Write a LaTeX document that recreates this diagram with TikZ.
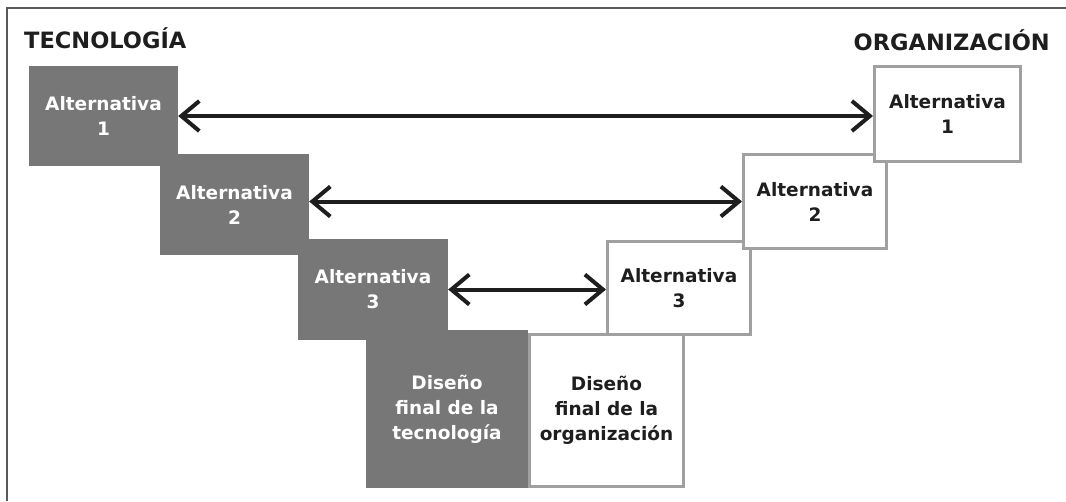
\documentclass[tikz,border=0pt]{standalone}
\usepackage{fontspec}
\setmainfont{DejaVu Sans}
\usetikzlibrary{arrows.meta}
\definecolor{techfill}{HTML}{777777}
\definecolor{orgline}{HTML}{A0A0A0}
\definecolor{ink}{HTML}{1E1E1E}
\definecolor{frameline}{HTML}{5A5A5A}
\begin{document}
\begin{tikzpicture}[x=1pt,y=-1pt,
  boxtext/.style={font=\bfseries\fontsize{18.5}{25}\selectfont, align=center, inner sep=0pt},
  techbox/.style={boxtext, rectangle, fill=techfill, text=white},
  orgbox/.style={boxtext, rectangle, fill=white, draw=orgline, line width=3pt, text=ink},
  title/.style={font=\bfseries\fontsize{22.5}{27}\selectfont, text=ink, inner sep=0pt},
  biarrow/.style={draw=ink, line width=4pt,
    {Straight Barb[length=18pt,width=30pt,line width=4pt]}-{Straight Barb[length=18pt,width=30pt,line width=4pt]}}
]
\useasboundingbox (0,0) rectangle (1066,501);
% frame
\draw[frameline, line width=1.5pt] (7,501) -- (7,8) -- (1066,8);

% headings
\node[title, anchor=base west] (htec) at (24,48) {TECNOLOGÍA};
\node[title, anchor=base east] (horg) at (1050,50) {ORGANIZACIÓN};

% technology column
\node[techbox, minimum width=149pt, minimum height=100pt] (t1) at (103.5,116) {Alternativa\\1};
\node[techbox, minimum width=149pt, minimum height=101pt] (t2) at (234.5,204.5) {Alternativa\\2};
\node[techbox, minimum width=150pt, minimum height=101pt] (t3) at (373,289.5) {Alternativa\\3};
\node[techbox, minimum width=162pt, minimum height=158pt] (t4) at (447,409) {Diseño\\final de la\\tecnología};

% organization column (lower boxes first, upper ones overlap them)
\node[orgbox, minimum width=154pt, minimum height=152pt] (o4) at (606.5,410.5) {Diseño\\final de la\\organización};
\node[orgbox, minimum width=143pt, minimum height=93pt] (o3) at (679,288) {Alternativa\\3};
\node[orgbox, minimum width=143pt, minimum height=94pt] (o2) at (815,201.5) {Alternativa\\2};
\node[orgbox, minimum width=146pt, minimum height=95pt] (o1) at (947.5,114) {Alternativa\\1};

% links between alternatives
\draw[biarrow] (t1.east) -- (t1.east -| o1.west);
\draw[biarrow] (o2.west -| t2.east) -- (o2.west);
\draw[biarrow] (t3.east) -- (t3.east -| o3.west);
\end{tikzpicture}
\end{document}
